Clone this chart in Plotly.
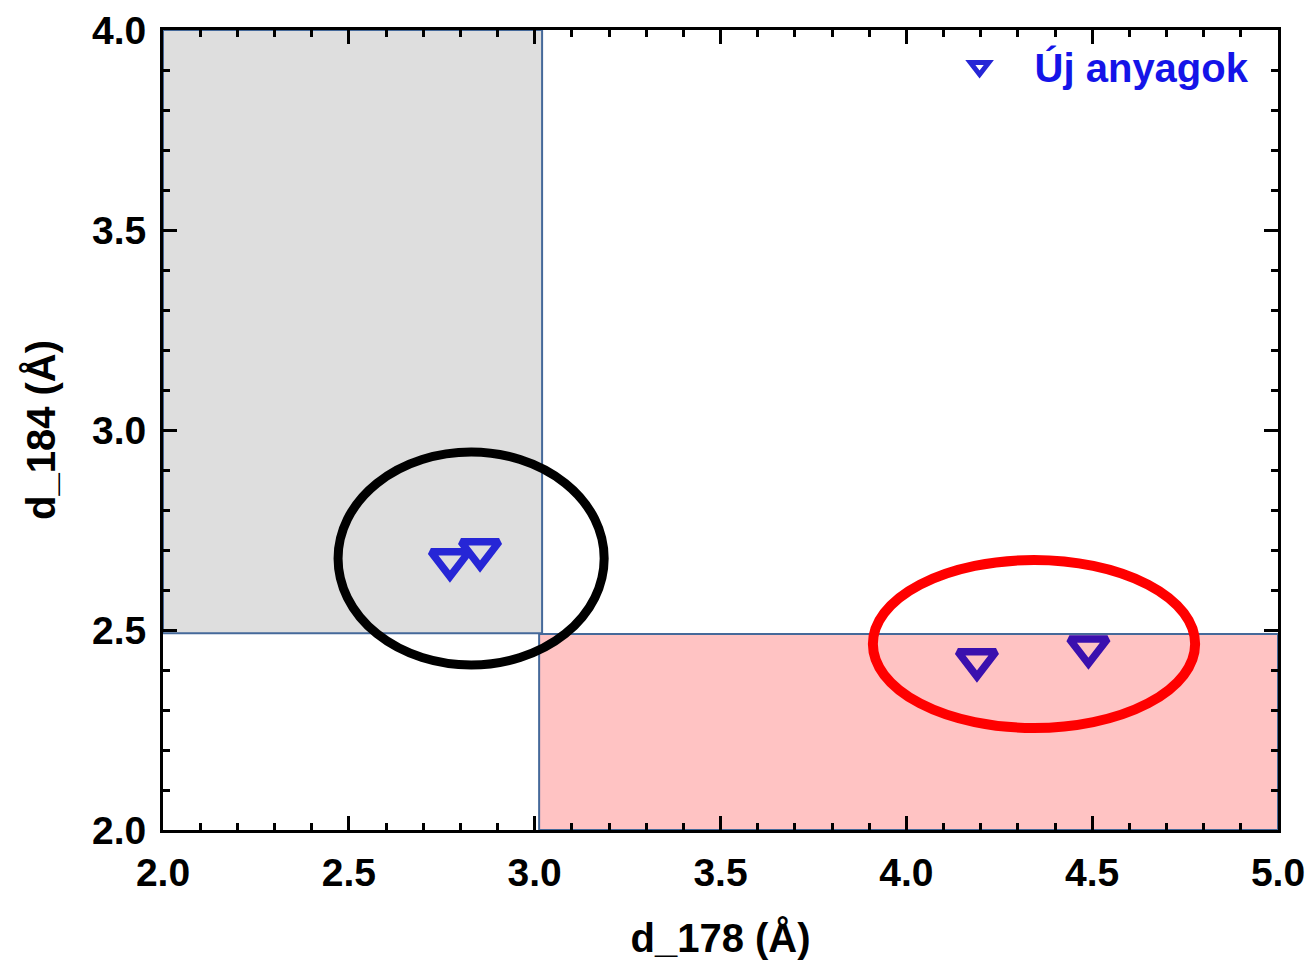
import plotly.graph_objects as go

# ---- data ----
d_178 = [2.772, 2.853, 4.19, 4.49]
d_184 = [2.675, 2.70, 2.425, 2.457]
point_colors = ["#2626D6", "#2626D6", "#3A10AE", "#3A10AE"]
series_name = "<b>Új anyagok</b>"

x_ticks = [2.0, 2.5, 3.0, 3.5, 4.0, 4.5, 5.0]
y_ticks = [2.0, 2.5, 3.0, 3.5, 4.0]

# shaded regions (x0, x1, y0, y1)
gray_region = [2.0, 3.02, 2.492, 4.0]
pink_region = [3.012, 5.0, 2.0, 2.49]
# highlight ellipses (x0, x1, y0, y1)
black_ellipse = [2.471, 3.187, 2.4125, 2.945]
red_ellipse = [3.91, 4.777, 2.255, 2.675]

FONT = "Liberation Sans, Arial, sans-serif"

fig = go.Figure()
fig.add_trace(go.Scatter(
    x=d_178, y=d_184, mode="markers", name=series_name,
    marker=dict(symbol="triangle-down-open", size=33, color=point_colors,
                line=dict(width=7.5)),
))

border = "#45699A"
fig.add_shape(type="rect", xref="x", yref="y",
              x0=gray_region[0], x1=gray_region[1], y0=gray_region[2], y1=gray_region[3],
              fillcolor="#DEDEDE", line=dict(color=border, width=2), layer="below")
fig.add_shape(type="rect", xref="x", yref="y",
              x0=pink_region[0], x1=pink_region[1], y0=pink_region[2], y1=pink_region[3],
              fillcolor="#FFC3C3", line=dict(color=border, width=2), layer="below")
fig.add_shape(type="circle", xref="x", yref="y",
              x0=black_ellipse[0], x1=black_ellipse[1], y0=black_ellipse[2], y1=black_ellipse[3],
              line=dict(color="black", width=9), layer="above")
fig.add_shape(type="circle", xref="x", yref="y",
              x0=red_ellipse[0], x1=red_ellipse[1], y0=red_ellipse[2], y1=red_ellipse[3],
              line=dict(color="#FF0000", width=10), layer="above")

axis_common = dict(
    showline=True, linecolor="black", linewidth=3, mirror="allticks",
    ticks="inside", ticklen=14, tickwidth=3, tickcolor="black",
    showgrid=False, zeroline=False, automargin=False,
    tickfont=dict(family=FONT, size=39, color="black", weight="bold"),
    minor=dict(ticks="inside", ticklen=7, tickwidth=3, tickcolor="black", dtick=0.1, showgrid=False),
)

fig.update_xaxes(range=[2.0, 5.0], tickvals=x_ticks, ticktext=[f"{v:.1f}" for v in x_ticks],
                 title=dict(text="<b>d_178 (Å)</b>", font=dict(family=FONT, size=40, color="black"), standoff=32),
                 ticklabelstandoff=6, **axis_common)
fig.update_yaxes(range=[2.0, 4.0], tickvals=y_ticks, ticktext=[f"{v:.1f}" for v in y_ticks],
                 title=dict(text="<b>d_184 (Å)</b>", font=dict(family=FONT, size=40, color="black"), standoff=24),
                 ticklabelstandoff=6, **axis_common)

fig.update_layout(
    width=1314, height=960,
    margin=dict(l=163, r=36, t=30, b=130),
    paper_bgcolor="white", plot_bgcolor="white",
    showlegend=True,
    legend=dict(x=0.979, y=0.995, xanchor="right", yanchor="top",
                bgcolor="rgba(0,0,0,0)", itemwidth=100,
                font=dict(family=FONT, size=40, color="#1414E8")),
)

fig.write_html("out.html")
